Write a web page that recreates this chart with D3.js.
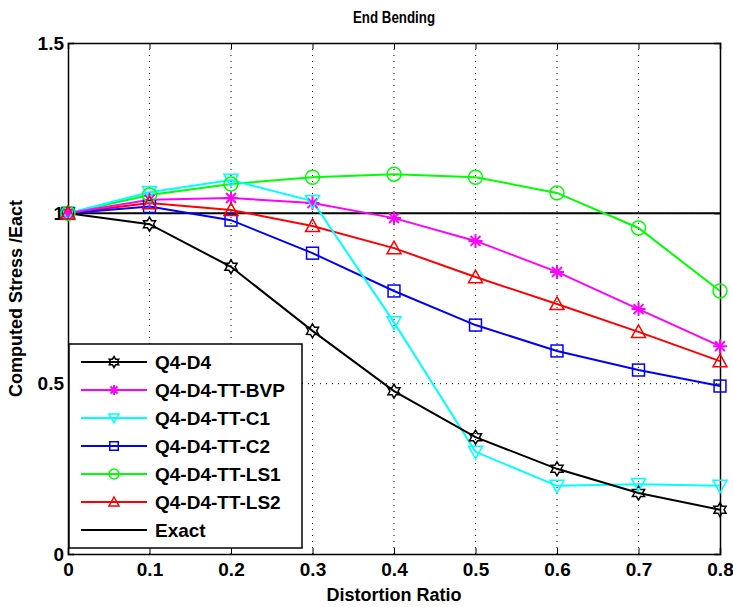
<!DOCTYPE html>
<html>
<head>
<meta charset="utf-8">
<script src="https://cdn.jsdelivr.net/npm/d3@7"></script>
<style>
  body { margin: 0; background: #fff; }
  svg text { font-family: "Liberation Sans", Arial, sans-serif; font-weight: bold; }
</style>
</head>
<body>
<div id="chart"></div>
<script>
// distortion ratios on x axis
var ratios = [0, 0.1, 0.2, 0.3, 0.4, 0.5, 0.6, 0.7, 0.8];

// computed stress / exact for each element
var q4d4   = [1.0, 0.968, 0.843, 0.655, 0.478, 0.343, 0.250, 0.179, 0.130];
var ttBvp  = [1.0, 1.040, 1.045, 1.030, 0.986, 0.919, 0.828, 0.719, 0.610];
var ttC1   = [1.0, 1.062, 1.098, 1.036, 0.680, 0.300, 0.200, 0.205, 0.200];
var ttC2   = [1.0, 1.020, 0.980, 0.883, 0.772, 0.672, 0.596, 0.540, 0.493];
var ttLs1  = [1.0, 1.054, 1.086, 1.106, 1.115, 1.106, 1.060, 0.957, 0.772];
var ttLs2  = [1.0, 1.030, 1.010, 0.963, 0.898, 0.813, 0.734, 0.652, 0.566];
var exact  = [1.0, 1.0, 1.0, 1.0, 1.0, 1.0, 1.0, 1.0, 1.0];

var xTicks = [0, 0.1, 0.2, 0.3, 0.4, 0.5, 0.6, 0.7, 0.8];
var yTicks = [0, 0.5, 1, 1.5];

var series = [
  {name: "Q4-D4", values: q4d4, color: "#000000", marker: "hexagram"},
  {name: "Q4-D4-TT-BVP", values: ttBvp, color: "#ff00ff", marker: "asterisk"},
  {name: "Q4-D4-TT-C1", values: ttC1, color: "#00ffff", marker: "down"},
  {name: "Q4-D4-TT-C2", values: ttC2, color: "#0000ff", marker: "square"},
  {name: "Q4-D4-TT-LS1", values: ttLs1, color: "#00ff00", marker: "circle"},
  {name: "Q4-D4-TT-LS2", values: ttLs2, color: "#ff0000", marker: "up"},
  {name: "Exact", values: exact, color: "#000000", marker: "none"}
];

var W = 733, H = 607;
var margin = {top: 43, right: 13, bottom: 53, left: 68};
var width = W - margin.left - margin.right,
    height = H - margin.top - margin.bottom;

var x = d3.scaleLinear().domain([0, 0.8]).range([0, width]);
var y = d3.scaleLinear().domain([0, 1.5]).range([height, 0]);

var svg = d3.select("#chart").append("svg")
  .attr("width", W).attr("height", H);

var plot = svg.append("g")
  .attr("transform", "translate(" + margin.left + "," + margin.top + ")");

// dotted grid
plot.selectAll(".vgrid").data(xTicks.slice(1, -1)).enter().append("line")
  .attr("x1", d => x(d)).attr("x2", d => x(d))
  .attr("y1", 0).attr("y2", height)
  .attr("stroke", "#000").attr("stroke-width", 1)
  .attr("stroke-dasharray", "1,5");
plot.selectAll(".hgrid").data(yTicks.slice(1, -1)).enter().append("line")
  .attr("y1", d => y(d)).attr("y2", d => y(d))
  .attr("x1", 0).attr("x2", width)
  .attr("stroke", "#000").attr("stroke-width", 1)
  .attr("stroke-dasharray", "1,5");

// axes (box)
var xAxis = d3.axisBottom(x).tickValues(xTicks).tickSize(-6).tickPadding(9)
  .tickFormat(d => d === 0 ? "0" : d3.format(".1f")(d));
var yAxis = d3.axisLeft(y).tickValues(yTicks).tickSize(-6).tickPadding(4)
  .tickFormat(d => d === 0 ? "0" : (d === 1 ? "1" : d3.format(".1f")(d)));

var gx = plot.append("g").attr("transform", "translate(0," + height + ")").call(xAxis);
var gy = plot.append("g").call(yAxis);
plot.append("g").call(d3.axisTop(x).tickValues(xTicks).tickSize(-6).tickFormat(""));
plot.append("g").attr("transform", "translate(" + width + ",0)")
  .call(d3.axisRight(y).tickValues(yTicks).tickSize(-6).tickFormat(""));

plot.selectAll(".domain").attr("stroke", "#000").attr("stroke-width", 1.5);
plot.selectAll(".tick line").attr("stroke", "#000");
gx.selectAll("text").style("font-size", "19px").attr("fill", "#000");
gy.selectAll("text").style("font-size", "19px").attr("fill", "#000").attr("dy", "0.32em");

// marker drawing
function drawMarker(g, type, color, s) {
  var r = s / 2;
  if (type === "circle") {
    g.append("circle").attr("r", r).attr("fill", "none")
      .attr("stroke", color).attr("stroke-width", 1.5);
  } else if (type === "square") {
    g.append("rect").attr("x", -r * 0.85).attr("y", -r * 0.85)
      .attr("width", s * 0.85).attr("height", s * 0.85)
      .attr("fill", "none").attr("stroke", color).attr("stroke-width", 1.5);
  } else if (type === "up") {
    g.append("path").attr("d", "M0," + (-r) + "L" + r + "," + (r * 0.8) + "L" + (-r) + "," + (r * 0.8) + "Z")
      .attr("fill", "none").attr("stroke", color).attr("stroke-width", 1.5);
  } else if (type === "down") {
    g.append("path").attr("d", "M0," + r + "L" + r + "," + (-r * 0.8) + "L" + (-r) + "," + (-r * 0.8) + "Z")
      .attr("fill", "none").attr("stroke", color).attr("stroke-width", 1.5);
  } else if (type === "asterisk") {
    var p = "";
    for (var k = 0; k < 4; k++) {
      var a = k * Math.PI / 4;
      p += "M" + (-r * Math.cos(a)) + "," + (-r * Math.sin(a)) + "L" + (r * Math.cos(a)) + "," + (r * Math.sin(a));
    }
    g.append("path").attr("d", p).attr("stroke", color).attr("stroke-width", 2);
  } else if (type === "hexagram") {
    var pts = [];
    for (var k = 0; k < 12; k++) {
      var a = -Math.PI / 2 + k * Math.PI / 6;
      var rr = k % 2 === 0 ? r : r * 0.58;
      pts.push([rr * Math.cos(a), rr * Math.sin(a)]);
    }
    g.append("path").attr("d", "M" + pts.join("L") + "Z")
      .attr("fill", "none").attr("stroke", color).attr("stroke-width", 1.5);
  }
}

var line = d3.line().x((d, i) => x(ratios[i])).y(d => y(d));

// draw exact first, then series
series.slice().reverse().forEach(function(s) {
  plot.append("path").datum(s.values)
    .attr("d", line).attr("fill", "none")
    .attr("stroke", s.color).attr("stroke-width", 2);
});
series.forEach(function(s) {
  if (s.marker === "none") return;
  s.values.forEach(function(v, i) {
    var g = plot.append("g").attr("transform", "translate(" + x(ratios[i]) + "," + y(v) + ")");
    drawMarker(g, s.marker, s.color, 14);
  });
});

// legend
var legend = svg.append("g").attr("transform", "translate(69,344)");
legend.append("rect").attr("width", 233).attr("height", 204)
  .attr("fill", "#fff").attr("stroke", "#000").attr("stroke-width", 1.5);
series.forEach(function(s, i) {
  var row = legend.append("g").attr("transform", "translate(0," + (18 + i * 28) + ")");
  row.append("line").attr("x1", 12).attr("x2", 78).attr("y1", 0).attr("y2", 0)
    .attr("stroke", s.color).attr("stroke-width", 2);
  var mg = row.append("g").attr("transform", "translate(45,0)");
  drawMarker(mg, s.marker, s.color, s.marker === "hexagram" ? 11 : 10);
  row.append("text").attr("x", 86).attr("y", 0).attr("dy", "0.36em")
    .style("font-size", "19px").text(s.name);
});

// title and labels
svg.append("text").attr("x", margin.left + width / 2).attr("y", 23)
  .attr("text-anchor", "middle").style("font-size", "16px")
  .attr("textLength", 82).attr("lengthAdjust", "spacingAndGlyphs")
  .text("End Bending");
svg.append("text").attr("x", margin.left + width / 2).attr("y", 601)
  .attr("text-anchor", "middle").style("font-size", "18px").text("Distortion Ratio");
svg.append("text")
  .attr("transform", "translate(22," + (margin.top + height / 2) + ") rotate(-90)")
  .attr("text-anchor", "middle").style("font-size", "18px").text("Computed Stress /Eact");
</script>
</body>
</html>
